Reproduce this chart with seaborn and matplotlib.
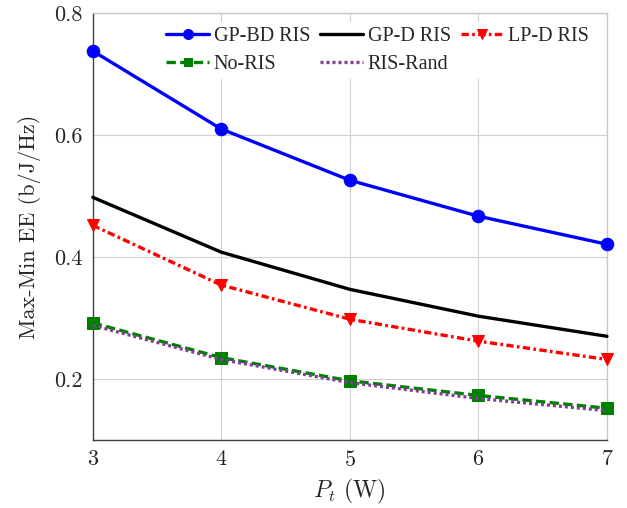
import pandas as pd
import matplotlib.pyplot as plt
import seaborn as sns

# Data
pt = [3, 4, 5, 6, 7]
gp_bd = [0.738, 0.610, 0.526, 0.467, 0.421]
gp_d = [0.498, 0.408, 0.347, 0.303, 0.270]
lp_d = [0.452, 0.354, 0.298, 0.262, 0.232]
no_ris = [0.292, 0.235, 0.197, 0.173, 0.152]
ris_rand = [0.288, 0.232, 0.194, 0.168, 0.148]

sns.set_style('white')
plt.rcParams['font.family'] = ['cmr10', 'DejaVu Serif']
plt.rcParams['mathtext.fontset'] = 'cm'
plt.rcParams['axes.formatter.use_mathtext'] = True

fig = plt.figure(figsize=(6.27, 5.08), dpi=100)
ax = fig.add_axes([0.148, 0.134, 0.82, 0.840])

styles = [
    ('GP-BD RIS', gp_bd, '#0000ff', '-', 'o', 9),
    ('No-RIS', no_ris, '#008000', (0, (2.8, 1.3)), 's', 8),
    ('GP-D RIS', gp_d, 'black', '-', None, 0),
    ('RIS-Rand', ris_rand, '#7f3f98', (0, (0.9, 0.9)), None, 0),
    ('LP-D RIS', lp_d, '#ff0000', (0, (2.2, 1.0, 0.8, 1.0)), 'v', 9),
]

for name, vals, col, ls, mk, ms in styles:
    df = pd.DataFrame({'Pt': pt, 'EE': vals})
    sns.lineplot(data=df, x='Pt', y='EE', ax=ax, color=col, linestyle=ls,
                 marker=mk, markersize=ms, markeredgecolor=col,
                 linewidth=2.4, label=name, clip_on=False, zorder=3)

ax.set_xlim(3, 7)
ax.set_ylim(0.1, 0.8)
ax.set_xticks([3, 4, 5, 6, 7])
ax.set_yticks([0.2, 0.4, 0.6, 0.8])
ax.set_yticklabels(['0.2', '0.4', '0.6', '0.8'])
ax.grid(True, color='#d0d0d0', linewidth=0.8)
for side in ['left', 'bottom']:
    ax.spines[side].set_color('#404040')
for side in ['top', 'right']:
    ax.spines[side].set_color('#c8c8c8')
for s in ax.spines.values():
    s.set_linewidth(1.0)
ax.tick_params(direction='in', length=4, color='#909090', labelsize=16, pad=7)
ax.set_xlabel('$P_t$ (W)', fontsize=17, labelpad=5)
ax.set_ylabel('Max-Min EE (b/J/Hz)', fontsize=16, labelpad=10)

leg = ax.legend(loc='upper right', bbox_to_anchor=(0.975, 0.98), ncol=3,
                frameon=True, fancybox=False, edgecolor='none', framealpha=1,
                handlelength=2.1, columnspacing=0.5, handletextpad=0.25,
                borderaxespad=0.0, borderpad=0.25, labelspacing=0.45,
                markerscale=0.8,
                prop={'family': 'Liberation Serif', 'size': 14.5})

fig.savefig('out.png', dpi=100)
